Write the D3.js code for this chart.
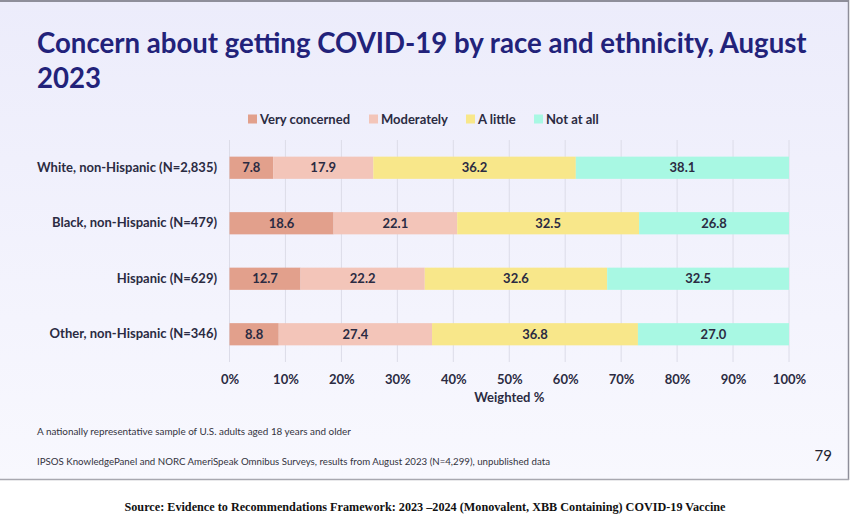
<!DOCTYPE html>
<html>
<head>
<meta charset="utf-8">
<script src="https://cdn.jsdelivr.net/npm/d3@7"></script>
<style>
  html, body { margin: 0; padding: 0; background: #ffffff; }
  svg { display: block; }
</style>
</head>
<body>
<svg id="chart" width="850" height="528"></svg>
<script>
// ---- Data ----
const categories = [
  "White, non-Hispanic (N=2,835)",
  "Black, non-Hispanic (N=479)",
  "Hispanic (N=629)",
  "Other, non-Hispanic (N=346)"
];
const seriesNames = ["Very concerned", "Moderately", "A little", "Not at all"];
const veryConcerned = [7.8, 18.6, 12.7, 8.8];
const moderately    = [17.9, 22.1, 22.2, 27.4];
const aLittle       = [36.2, 32.5, 32.6, 36.8];
const notAtAll      = [38.1, 26.8, 32.5, 27.0];
const tickValues = [0, 10, 20, 30, 40, 50, 60, 70, 80, 90, 100];
const titleLines = ["Concern about getting COVID-19 by race and ethnicity, August", "2023"];
const axisTitle = "Weighted %";
const note1 = "A nationally representative sample of U.S. adults aged 18 years and older";
const note2 = "IPSOS KnowledgePanel and NORC AmeriSpeak Omnibus Surveys, results from August 2023 (N=4,299), unpublished data";
const pageNumber = "79";
const sourceText = "Source: Evidence to Recommendations Framework: 2023 \u20132024 (Monovalent, XBB Containing) COVID-19 Vaccine";

const colors = ["#E2A08C", "#F3C5B9", "#F8E78A", "#A8F8E3"];

// ---- Build table ----
const seriesValues = [veryConcerned, moderately, aLittle, notAtAll];
const rows = categories.map((c, i) => {
  const r = { category: c };
  seriesNames.forEach((s, j) => r[s] = seriesValues[j][i]);
  return r;
});
const stacked = d3.stack().keys(seriesNames)(rows);

const svg = d3.select("#chart");
const font = "Lato, 'Open Sans', sans-serif";
const textColor = "#2B2B42";

// ---- Slide background ----
const defs = svg.append("defs");
const grad = defs.append("linearGradient").attr("id", "bg").attr("x1", 0).attr("y1", 0).attr("x2", 0).attr("y2", 1);
grad.append("stop").attr("offset", "0%").attr("stop-color", "#ECECFB");
grad.append("stop").attr("offset", "100%").attr("stop-color", "#F8F8FE");
svg.append("rect").attr("x", 0).attr("y", 0).attr("width", 848).attr("height", 479).attr("fill", "url(#bg)");
svg.append("line").attr("x1", 0).attr("x2", 849).attr("y1", 1).attr("y2", 1).attr("stroke", "#8E8E9A").attr("stroke-width", 2);
svg.append("line").attr("x1", 848.5).attr("x2", 848.5).attr("y1", 0).attr("y2", 480).attr("stroke", "#8E8E9A").attr("stroke-width", 1.5);
svg.append("line").attr("x1", 0).attr("x2", 849).attr("y1", 479.5).attr("y2", 479.5).attr("stroke", "#A8A8B0").attr("stroke-width", 1.5);

// ---- Title ----
const title = svg.append("g").attr("font-family", font).attr("font-weight", 700).attr("fill", "#22227A");
const t1 = title.append("text").attr("x", 37).attr("y", 53).attr("font-size", 30).text(titleLines[0]);
const w1 = t1.node().getComputedTextLength();
const fs = 30 * 770 / w1;
t1.attr("font-size", fs);
title.append("text").attr("x", 37).attr("y", 88).attr("font-size", fs).text(titleLines[1]);

// ---- Scales ----
const x = d3.scaleLinear().domain([0, 100]).range([229.5, 789]);
const y = d3.scaleBand().domain(categories).range([140, 362]).paddingInner(0.6).paddingOuter(0.3);

// ---- Gridlines ----
svg.append("g").selectAll("line").data(tickValues).join("line")
  .attr("x1", d => x(d)).attr("x2", d => x(d))
  .attr("y1", 140).attr("y2", 362)
  .attr("stroke", "#DCDCE8").attr("stroke-width", 1);

// ---- Bars ----
const barG = svg.append("g");
stacked.forEach((s, j) => {
  barG.append("g").attr("fill", colors[j]).selectAll("rect").data(s).join("rect")
    .attr("x", d => x(d[0]))
    .attr("width", d => x(d[1]) - x(d[0]))
    .attr("y", d => y(d.data.category))
    .attr("height", y.bandwidth());
});
// value labels
stacked.forEach((s, j) => {
  barG.append("g").selectAll("text").data(s).join("text")
    .attr("x", d => (x(d[0]) + x(d[1])) / 2)
    .attr("y", d => y(d.data.category) + y.bandwidth() / 2)
    .attr("dy", "0.36em")
    .attr("text-anchor", "middle")
    .attr("font-family", font).attr("font-weight", 700).attr("font-size", 13)
    .attr("fill", textColor)
    .text(d => (d[1] - d[0]).toFixed(1));
});

// ---- Y axis (category labels) ----
const yAxis = svg.append("g").attr("transform", "translate(217,0)")
  .call(d3.axisLeft(y).tickSize(0).tickPadding(0));
yAxis.select(".domain").remove();
yAxis.selectAll("text").attr("font-family", font).attr("font-weight", 700).attr("font-size", 13).attr("fill", textColor);

// ---- X axis ----
const xAxis = svg.append("g").attr("transform", "translate(0,362)")
  .call(d3.axisBottom(x).tickValues(tickValues).tickSize(0).tickPadding(13).tickFormat(d => d + "%"));
xAxis.select(".domain").remove();
xAxis.selectAll("text").attr("font-family", font).attr("font-weight", 700).attr("font-size", 13).attr("fill", textColor);

svg.append("text").attr("x", x(50)).attr("y", 402).attr("text-anchor", "middle")
  .attr("font-family", font).attr("font-weight", 700).attr("font-size", 13).attr("fill", textColor)
  .text(axisTitle);

// ---- Legend ----
const legendX = [248, 369, 466, 534];
const legend = svg.append("g");
seriesNames.forEach((s, j) => {
  legend.append("rect").attr("x", legendX[j]).attr("y", 114.5).attr("width", 9).attr("height", 9).attr("fill", colors[j]);
  legend.append("text").attr("x", legendX[j] + 12).attr("y", 119).attr("dy", "0.36em")
    .attr("font-family", font).attr("font-weight", 700).attr("font-size", 13).attr("fill", textColor).text(s);
});

// ---- Notes ----
svg.append("text").attr("x", 37).attr("y", 435).attr("font-family", font).attr("font-size", 9.9).attr("fill", "#333340").text(note1);
svg.append("text").attr("x", 37).attr("y", 465).attr("font-family", font).attr("font-size", 9.7).attr("fill", "#333340").text(note2);
svg.append("text").attr("x", 832).attr("y", 461).attr("text-anchor", "end").attr("font-family", font).attr("font-size", 15).attr("fill", "#222230").text(pageNumber);

// ---- Source ----
svg.append("text").attr("x", 425).attr("y", 511).attr("text-anchor", "middle")
  .attr("font-family", "'Liberation Serif', 'Times New Roman', serif").attr("font-weight", 700).attr("font-size", 12.2).attr("fill", "#111")
  .text(sourceText);
</script>
</body>
</html>
